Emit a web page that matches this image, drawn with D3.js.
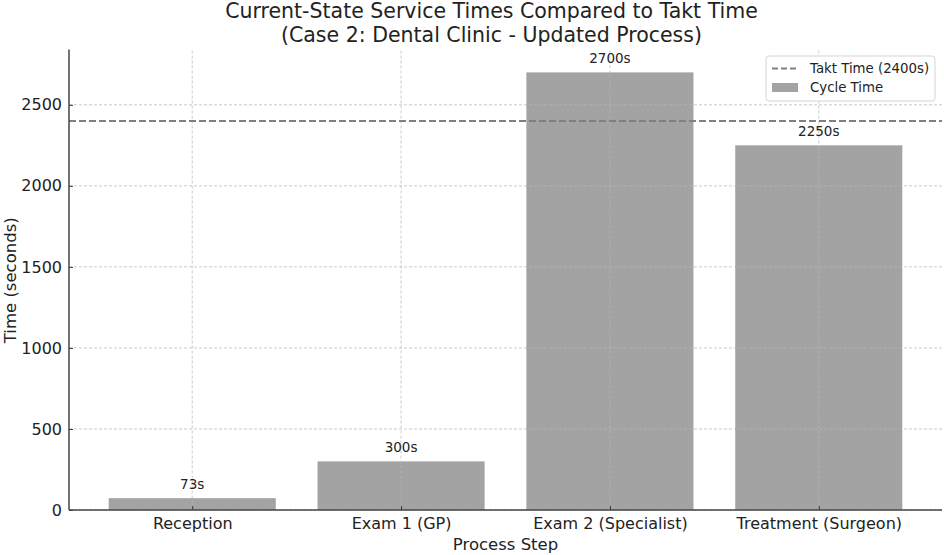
<!DOCTYPE html>
<html><head><meta charset="utf-8">
<script src="https://cdn.jsdelivr.net/npm/d3@7"></script>
<style>body{margin:0;background:#fff}svg{display:block}text{font-family:"DejaVu Sans",sans-serif}</style>
</head><body><svg id="c" width="944" height="555"></svg>
<script>
const categories = ["Reception", "Exam 1 (GP)", "Exam 2 (Specialist)", "Treatment (Surgeon)"];
const cycleTimes = [73, 300, 2700, 2250];
const barLabels = ["73s", "300s", "2700s", "2250s"];
const taktTime = 2400;
const yTicks = [0, 500, 1000, 1500, 2000, 2500];
const titleLines = ["Current-State Service Times Compared to Takt Time", "(Case 2: Dental Clinic - Updated Process)"];
const legendLabels = ["Takt Time (2400s)", "Cycle Time"];

const svg = d3.select("#c");
const L = 69, R = 942, T = 50.5, B = 510;
const x = d3.scaleLinear().domain([-0.59, categories.length - 1 + 0.59]).range([L, R]);
const y = d3.scaleLinear().domain([0, 2835]).range([B, T]);
const bw = (x(1) - x(0)) * 0.8;
const gridColor = "#b8b8b8";

// bars
svg.append("g").selectAll("rect").data(cycleTimes).join("rect")
  .attr("x", (d, i) => x(i) - bw / 2).attr("width", bw)
  .attr("y", d => y(d)).attr("height", d => B - y(d))
  .attr("fill", "#a3a3a3");

// grid
const grid = svg.append("g").attr("stroke", gridColor).attr("stroke-width", 0.8).attr("stroke-dasharray", "3,2").attr("opacity", 0.9);
grid.selectAll("line.h").data(yTicks).join("line").attr("class", "h")
  .attr("x1", L).attr("x2", R).attr("y1", d => y(d)).attr("y2", d => y(d));
grid.selectAll("line.v").data(categories).join("line").attr("class", "v")
  .attr("y1", T).attr("y2", B).attr("x1", (d, i) => x(i)).attr("x2", (d, i) => x(i));

// takt line
svg.append("line").attr("x1", L).attr("x2", R).attr("y1", y(taktTime)).attr("y2", y(taktTime))
  .attr("stroke", "#808080").attr("stroke-width", 2).attr("stroke-dasharray", "7,3");

// bar labels
svg.append("g").selectAll("text").data(cycleTimes).join("text")
  .attr("x", (d, i) => x(i)).attr("y", d => y(d) - 9)
  .attr("text-anchor", "middle").attr("font-size", 13.5).attr("fill", "#222")
  .text((d, i) => barLabels[i]);

// axes
const yAxis = d3.axisLeft(y).tickValues(yTicks).tickSize(-4).tickPadding(7).tickFormat(d3.format("d"));
const gy = svg.append("g").attr("transform", `translate(${L},0)`).call(yAxis);
const xAxis = d3.axisBottom(x).tickValues(d3.range(categories.length)).tickSize(-4).tickPadding(8).tickFormat(i => categories[i]);
const gx = svg.append("g").attr("transform", `translate(0,${B})`).call(xAxis);
[gx, gy].forEach(g => {
  g.select(".domain").remove();
  g.selectAll(".tick line").attr("stroke", "#333");
  g.selectAll(".tick text").attr("font-size", 16).attr("fill", "#222").attr("font-family", "DejaVu Sans");
});
svg.append("line").attr("x1", L).attr("x2", L).attr("y1", T - 1).attr("y2", B).attr("stroke", "#444").attr("stroke-width", 1.5);
svg.append("line").attr("x1", L).attr("x2", R).attr("y1", B).attr("y2", B).attr("stroke", "#444").attr("stroke-width", 1.5);

// axis labels
svg.append("text").attr("x", (L + R) / 2).attr("y", 550).attr("text-anchor", "middle").attr("font-size", 16.5).attr("fill", "#222").text("Process Step");
svg.append("text").attr("transform", `translate(16,${(T + B) / 2}) rotate(-90)`).attr("text-anchor", "middle").attr("font-size", 16.5).attr("fill", "#222").text("Time (seconds)");

// title
svg.append("g").selectAll("text").data(titleLines).join("text")
  .attr("x", (L + R) / 2 - 14).attr("y", (d, i) => 18 + i * 24)
  .attr("text-anchor", "middle").attr("font-size", 20.5).attr("fill", "#222").text(d => d);

// legend
const lg = svg.append("g");
lg.append("rect").attr("x", 766).attr("y", 56).attr("width", 169).attr("height", 45).attr("rx", 3)
  .attr("fill", "#fff").attr("fill-opacity", 0.85).attr("stroke", "#d5d5d5");
lg.append("line").attr("x1", 772).attr("x2", 798).attr("y1", 68.5).attr("y2", 68.5)
  .attr("stroke", "#808080").attr("stroke-width", 2).attr("stroke-dasharray", "6,3");
lg.append("rect").attr("x", 772).attr("y", 83).attr("width", 26).attr("height", 9).attr("fill", "#a3a3a3");
lg.selectAll("text").data(legendLabels).join("text")
  .attr("x", 810).attr("y", (d, i) => 73 + i * 19).attr("font-size", 13.3).attr("fill", "#222").text(d => d);
</script></body></html>
